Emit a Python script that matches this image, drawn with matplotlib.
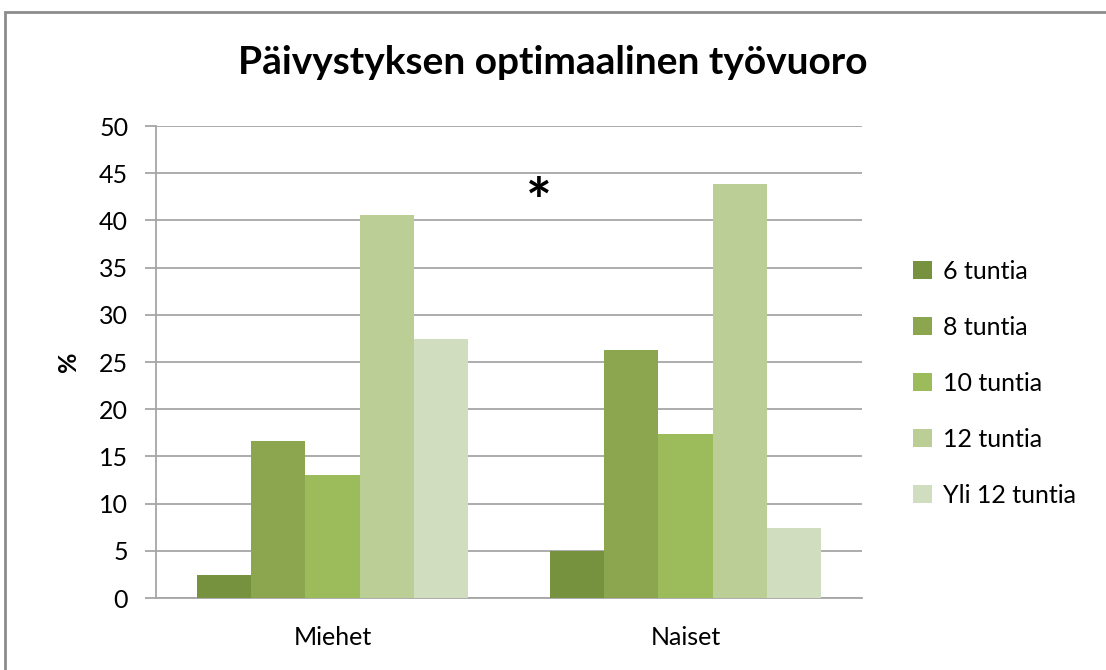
import numpy as np
import matplotlib.pyplot as plt
from matplotlib.patches import Rectangle

plt.rcParams['font.family'] = ['Lato', 'DejaVu Sans']

# Data (%)
categories = ['Miehet', 'Naiset']
series_names = ['6 tuntia', '8 tuntia', '10 tuntia', '12 tuntia', 'Yli 12 tuntia']
values = {
    '6 tuntia': [2.4, 5.0],
    '8 tuntia': [16.6, 26.3],
    '10 tuntia': [13.0, 17.4],
    '12 tuntia': [40.6, 43.9],
    'Yli 12 tuntia': [27.4, 7.4],
}
colors = ['#77923E', '#8BA64F', '#9CBB5A', '#BACE96', '#D1DDBF']

fig = plt.figure(figsize=(11.06, 6.70), dpi=100)
ax = fig.add_axes([156 / 1106, 1 - 598 / 670, 706 / 1106, 472 / 670])

# outer chart frame
fig.patches.append(Rectangle((5 / 1106, -0.05), 1.2, (670 - 12) / 670 + 0.05,
                             transform=fig.transFigure, fill=False,
                             edgecolor='#8C8C8C', linewidth=2))

x = np.arange(len(categories))
width = 0.77 / len(series_names)
for i, name in enumerate(series_names):
    offset = (i - 2) * width
    ax.bar(x + offset, values[name], width, color=colors[i], label=name,
           zorder=3)

ax.set_xlim(-0.5, 1.5)
ax.set_ylim(0, 50)
ax.set_yticks(range(0, 51, 5))
ax.set_xticks(x)
ax.set_xticklabels(categories)
ax.yaxis.grid(True, color='#A6A6A6', linewidth=1.3, zorder=0)
ax.tick_params(axis='y', labelsize=18, length=8, color='#A6A6A6',
               width=1.3, pad=12)
ax.tick_params(axis='x', labelsize=18, length=0, pad=20)
for side in ['top', 'right']:
    ax.spines[side].set_visible(False)
ax.spines['left'].set_color('#A6A6A6')
ax.spines['left'].set_linewidth(1.3)
ax.spines['bottom'].set_color('#A6A6A6')
ax.spines['bottom'].set_linewidth(1.3)

ax.set_ylabel('%', fontsize=18, fontweight='bold', labelpad=14)
fig.text(0.5, 1 - 63 / 670, 'Päivystyksen optimaalinen työvuoro',
         ha='center', va='center', fontsize=28, fontweight='bold')

ax.text(0.585, 41.6, '*', ha='center', va='center', fontsize=44,
        fontweight='bold')

ax.legend(loc='center left', bbox_to_anchor=(1.041, 0.455), frameon=False,
          fontsize=18, handlelength=0.75, handleheight=0.75,
          labelspacing=1.32, handletextpad=0.45)

fig.savefig('out.png', dpi=100)
